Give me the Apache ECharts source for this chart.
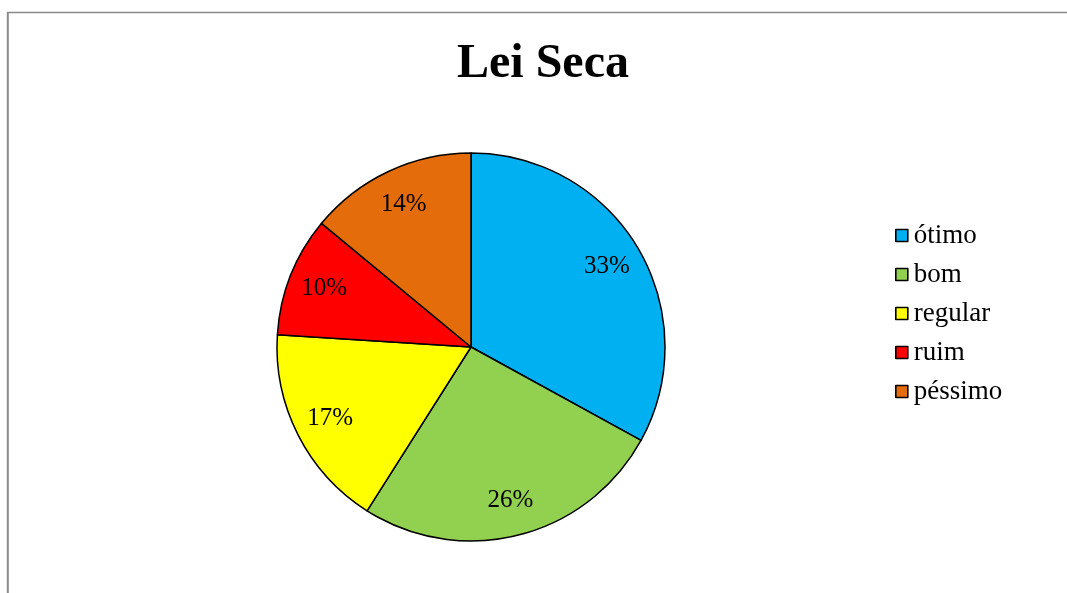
<!DOCTYPE html>
<html>
<head>
<meta charset="utf-8">
<style>
  html, body { margin: 0; padding: 0; background: #ffffff; }
  #chart { width: 1067px; height: 593px; }
</style>
<script src="https://cdn.jsdelivr.net/npm/echarts@6/dist/echarts.min.js"></script>
</head>
<body>
<div id="chart"></div>
<script>
// Survey answers about the "Lei Seca" (dry law), share of respondents in percent
const categories = ['ótimo', 'bom', 'regular', 'ruim', 'péssimo'];
const shares = [33, 26, 17, 10, 14];
const sliceColors = ['#00B0F0', '#92D050', '#FFFF00', '#FF0000', '#E46C0A'];

const serif = '"Liberation Serif", "Times New Roman", serif';
const pieCenter = [471, 347];
const pieRadius = 194;

const sliceData = categories.map((name, i) => ({
  name: name,
  value: shares[i],
  itemStyle: { color: sliceColors[i] }
}));

const chart = echarts.init(document.getElementById('chart'), null, { renderer: 'canvas' });

chart.setOption({
  animation: false,
  backgroundColor: '#ffffff',
  title: {
    text: 'Lei Seca',
    left: 543,
    textAlign: 'center',
    top: 41,
    padding: 0,
    textStyle: {
      fontFamily: serif,
      fontWeight: 'bold',
      fontSize: 48,
      color: '#000000'
    }
  },
  legend: {
    orient: 'vertical',
    left: 895,
    top: 222,
    padding: 0,
    itemWidth: 12,
    itemHeight: 12,
    itemGap: 12,
    icon: 'rect',
    data: categories,
    itemStyle: { borderColor: '#000000', borderWidth: 1.6 },
    textStyle: {
      fontFamily: serif,
      fontSize: 27,
      color: '#000000',
      padding: [0, 0, 0, 1]
    }
  },
  graphic: [
    {
      type: 'line',
      shape: { x1: 7, y1: 12.5, x2: 1067, y2: 12.5 },
      style: { stroke: '#8a8a8a', lineWidth: 1.5 }
    },
    {
      type: 'line',
      shape: { x1: 7.8, y1: 12, x2: 7.8, y2: 593 },
      style: { stroke: '#8a8a8a', lineWidth: 2 }
    }
  ],
  series: [
    {
      // coloured slices with black outlines
      type: 'pie',
      center: pieCenter,
      radius: [0, pieRadius],
      startAngle: 90,
      clockwise: true,
      silent: true,
      data: sliceData,
      itemStyle: { borderColor: '#000000', borderWidth: 1.5 },
      label: { show: false },
      labelLine: { show: false }
    },
    {
      // transparent ring carrying the percentage labels near the rim
      type: 'pie',
      center: pieCenter,
      radius: [116, pieRadius],
      startAngle: 90,
      clockwise: true,
      silent: true,
      legendHoverLink: false,
      data: categories.map((name, i) => ({ name: name, value: shares[i] })),
      itemStyle: { color: 'rgba(0,0,0,0)', borderWidth: 0 },
      label: {
        show: true,
        position: 'inside',
        formatter: (p) => p.value + '%',
        fontFamily: serif,
        fontSize: 25,
        color: '#000000'
      },
      labelLine: { show: false }
    }
  ]
});
</script>
</body>
</html>
